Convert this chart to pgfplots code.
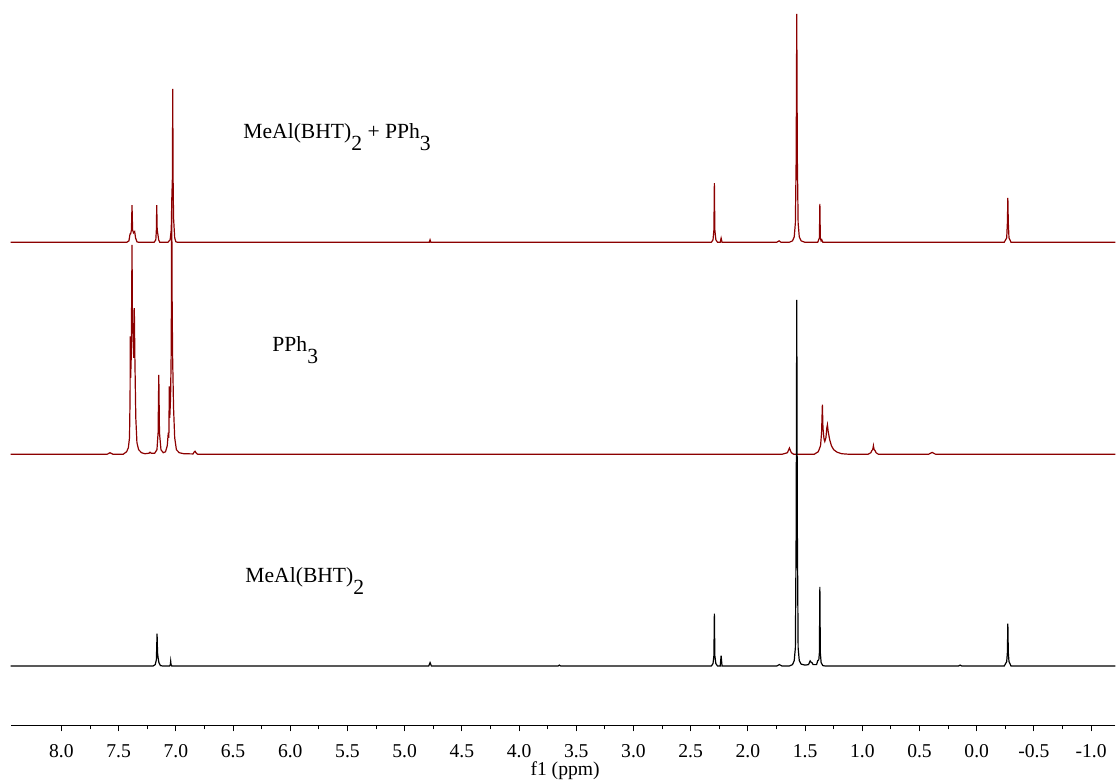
\documentclass[border=0pt]{standalone}
\usepackage{pgfplots}
\pgfplotsset{compat=1.18}
\usepackage{fontspec}
\setmainfont{Liberation Serif}
\definecolor{specred}{RGB}{140,0,0}
\begin{document}
\begin{tikzpicture}
\begin{axis}[
  scale only axis, width=552.65pt, height=362.85pt,
  x dir=reverse, xmin=-1.212, xmax=8.443, ymin=52.3, ymax=778,
  axis x line*=bottom, axis y line=none, clip=false,
  xtick={8,7.5,7,6.5,6,5.5,5,4.5,4,3.5,3,2.5,2,1.5,1,0.5,0,-0.5,-1},
  xticklabels={8.0,7.5,7.0,6.5,6.0,5.5,5.0,4.5,4.0,3.5,3.0,2.5,2.0,1.5,1.0,0.5,0.0,-0.5,-1.0},
  minor x tick num=1,
  tick align=outside, major tick length=3pt, minor tick length=2pt,
  every tick/.style={black, line width=0.5pt},
  axis line style={black, line width=0.5pt},
  xticklabel style={anchor=base, yshift=-13pt, font=\fontsize{9.8}{11}\selectfont},
]
% top: MeAl(BHT)2 + PPh3
\addplot[specred, line width=0.6pt] coordinates {
(8.443,535.5)(7.45,535.5)(7.43,535.5)(7.41,537)(7.40,544)(7.395,544)(7.388,548)(7.383,572.7)(7.378,548)(7.37,545)(7.36,546.3)(7.352,540)(7.34,536)(7.32,535.5)
(7.19,535.5)(7.175,538)(7.17,548)(7.167,572.7)(7.163,548)(7.155,542)(7.15,538)(7.14,535.5)
(7.07,535.5)(7.05,538)(7.04,548)(7.035,580)(7.030,600)(7.027,689)(7.024,600)(7.02,560)(7.01,540)(7.0,536)(6.98,535.5)
(4.80,535.5)(4.785,535.5)(4.778,538)(4.771,535.5)
(2.32,535.5)(2.305,538)(2.297,548)(2.293,594.7)(2.289,548)(2.28,538)(2.265,535.5)(2.242,535.5)(2.234,539.7)(2.226,535.5)
(1.75,535.5)(1.727,537)(1.71,535.5)
(1.64,535.5)(1.61,537)(1.595,541)(1.585,555)(1.578,620)(1.573,764)(1.568,620)(1.561,555)(1.551,541)(1.535,537)(1.50,535.5)
(1.39,535.5)(1.375,540)(1.371,574)(1.367,540)(1.36,537)(1.354,538)(1.345,535.5)
(-0.24,535.5)(-0.262,540)(-0.268,555)(-0.272,580)(-0.276,555)(-0.282,540)(-0.30,535.5)(-1.212,535.5)
};
% middle: PPh3
\addplot[specred, line width=0.6pt] coordinates {
(8.443,323.5)(7.6,323.5)(7.575,325)(7.55,323.5)(7.46,323.5)(7.43,326)(7.415,330)(7.405,340)(7.400,380)(7.398,441.3)(7.395,400)(7.39,420)(7.386,480)(7.383,533)(7.38,470)(7.375,440)(7.368,420)(7.363,469.7)(7.358,420)(7.35,360)(7.34,335)(7.325,328)(7.30,325)(7.27,324)(7.235,324.5)(7.226,325.5)(7.215,324.5)(7.185,324.5)(7.165,328)(7.155,345)(7.149,403)(7.143,345)(7.13,328)(7.11,325)(7.09,326)(7.075,332)(7.066,345)(7.061,340)(7.057,391.3)(7.053,360)(7.046,380)(7.04,430)(7.036,580)(7.032,470)(7.028,420)(7.02,370)(7.01,340)(6.995,328)(6.97,325)(6.93,324)(6.85,323.8)(6.838,326)(6.832,326.5)(6.825,325)(6.81,323.5)
(1.7,323.5)(1.655,325)(1.643,328)(1.637,329.7)(1.631,328)(1.62,325)(1.6,323.5)
(1.42,323.5)(1.385,326)(1.365,332)(1.356,345)(1.349,373)(1.344,350)(1.335,339)(1.328,336.3)(1.318,340)(1.31,350)(1.305,353)(1.298,346)(1.285,338)(1.27,332)(1.25,328)(1.22,325.5)(1.18,324)(1.12,323.5)
(0.95,323.5)(0.925,325)(0.918,327)(0.91,328)(0.906,330)(0.903,332)(0.9,330)(0.896,328)(0.888,327)(0.88,325)(0.86,323.5)
(0.42,323.5)(0.395,325)(0.39,325.3)(0.385,325)(0.36,323.5)(-1.212,323.5)
};
% bottom: MeAl(BHT)2
\addplot[black, line width=0.6pt] coordinates {
(8.443,111.5)(7.2,111.5)(7.18,113)(7.17,118)(7.164,144)(7.16,125)(7.155,120)(7.148,115)(7.135,112)(7.11,111.5)(7.055,111.5)(7.048,113)(7.045,116.3)(7.042,113)(7.035,111.5)(4.79,111.5)(4.778,115)(4.766,111.5)(3.66,111.5)(3.648,112.5)(3.636,111.5)
(2.32,111.5)(2.305,114)(2.297,122)(2.293,164)(2.289,122)(2.28,114)(2.265,111.5)(2.242,111.5)(2.234,122)(2.226,111.5)
(1.75,111.5)(1.725,113)(1.70,111.5)
(1.64,111.5)(1.61,113)(1.595,117)(1.585,130)(1.578,250)(1.573,478)(1.568,250)(1.561,130)(1.551,117)(1.535,113.5)(1.50,112.5)(1.47,113)(1.456,116.7)(1.445,115)(1.44,115)(1.43,113)(1.40,113)(1.389,117)(1.38,118)(1.375,125)(1.371,190.7)(1.367,125)(1.36,115)(1.345,112)(1.32,111.5)
(0.16,111.5)(0.145,112.5)(0.13,111.5)
(-0.24,111.5)(-0.262,116)(-0.268,125)(-0.272,154)(-0.276,125)(-0.282,116)(-0.30,111.5)(-1.212,111.5)
};
\node[anchor=base west, inner sep=0pt, font=\fontsize{10.8}{12}\selectfont] at (axis cs:6.413,639.7) {MeAl(BHT)\raisebox{-0.55em}{2} + PPh\raisebox{-0.55em}{3}};
\node[anchor=base west, inner sep=0pt, font=\fontsize{10.8}{12}\selectfont] at (axis cs:6.159,426) {PPh\raisebox{-0.55em}{3}};
\node[anchor=base west, inner sep=0pt, font=\fontsize{10.8}{12}\selectfont] at (axis cs:6.395,195) {MeAl(BHT)\raisebox{-0.55em}{2}};
\node[anchor=base, inner sep=0pt, font=\fontsize{9.8}{11}\selectfont] at (axis cs:3.598,2.5) {f1 (ppm)};
\path (axis cs:8.537,778) (axis cs:-1.212,-1);
\end{axis}
\end{tikzpicture}
\end{document}
